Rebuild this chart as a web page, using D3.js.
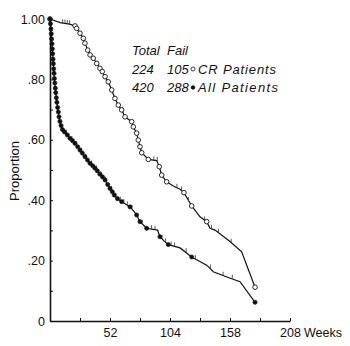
<!DOCTYPE html>
<html>
<head>
<meta charset="utf-8">
<script src="https://cdn.jsdelivr.net/npm/d3@7"></script>
<style>
  html, body { margin: 0; padding: 0; background: #fff; }
  svg { display: block; }
  .axis text { font-family: "Liberation Sans", Arial, sans-serif; font-size: 12.5px; fill: #111; }
  .axis path, .axis line { stroke: #111; }
  .legend text { font-family: "Liberation Sans", Arial, sans-serif; font-style: italic; font-size: 13px; fill: #111; }
</style>
</head>
<body>
<svg id="chart" width="350" height="346"></svg>
<script>
// Survival curves: [week, proportion, event marker (1) or plain vertex (0)]
const crPatients = [
  [0, 1.000, 1], [8.7, 0.988, 0], [17, 0.983, 0], [21.7, 0.977, 1], [23.1, 0.969, 1],
  [26, 0.953, 1], [28.9, 0.936, 1], [30.3, 0.920, 1], [32.7, 0.897, 1], [34.7, 0.881, 1],
  [37.5, 0.870, 1], [40.5, 0.853, 1], [43.3, 0.837, 1], [45.3, 0.826, 1], [47.7, 0.809, 1],
  [50.5, 0.792, 1], [53.5, 0.765, 1], [56.3, 0.737, 1], [59.2, 0.715, 1], [62.1, 0.699, 1],
  [65, 0.676, 1], [70.8, 0.660, 1], [72.2, 0.643, 1], [75.1, 0.622, 1], [76.5, 0.599, 1],
  [78, 0.577, 1], [79.5, 0.557, 1], [85.2, 0.535, 1], [92.5, 0.531, 0], [94.7, 0.511, 1],
  [96.8, 0.483, 1], [101.1, 0.461, 1], [106.9, 0.447, 0], [112.7, 0.436, 0], [116.1, 0.425, 1],
  [122.8, 0.381, 1], [130, 0.345, 0], [135.8, 0.329, 1], [138.7, 0.307, 0], [143, 0.301, 0],
  [156, 0.263, 0], [166.1, 0.229, 0], [177.7, 0.112, 1]
];

const allPatients = [
  [0, 1.000, 1], [0.4, 0.984, 1], [0.8, 0.967, 1], [1.1, 0.951, 1], [1.4, 0.934, 1],
  [1.7, 0.918, 1], [2.0, 0.901, 1], [2.3, 0.885, 1], [2.6, 0.867, 1], [2.9, 0.852, 1],
  [3.2, 0.835, 1], [3.5, 0.820, 1], [3.8, 0.803, 1], [4.2, 0.788, 1], [4.6, 0.771, 1],
  [5.0, 0.756, 1], [5.5, 0.739, 1], [6.0, 0.724, 1], [6.6, 0.707, 1], [7.2, 0.692, 1],
  [7.8, 0.676, 1], [8.6, 0.661, 1], [9.6, 0.647, 1], [10.8, 0.634, 1], [12.6, 0.626, 1],
  [15, 0.616, 1], [17.3, 0.605, 1], [19.5, 0.597, 1], [21.7, 0.588, 1], [24, 0.577, 1],
  [26, 0.566, 1], [28, 0.556, 1], [30.3, 0.544, 1], [32.5, 0.533, 1], [34.7, 0.522, 1],
  [37, 0.514, 1], [39, 0.506, 1], [41, 0.497, 1], [43.3, 0.486, 1], [45.5, 0.477, 1],
  [47.7, 0.467, 1], [50, 0.452, 1], [52, 0.439, 1], [54, 0.428, 1], [55.7, 0.417, 1],
  [58.5, 0.405, 1], [62.1, 0.395, 1], [66, 0.386, 0], [69.3, 0.378, 1], [72, 0.366, 0],
  [75.1, 0.351, 1], [76.5, 0.340, 0], [78, 0.329, 1], [81, 0.318, 0], [83.8, 0.307, 1],
  [93.2, 0.301, 0], [95.3, 0.279, 1], [98.5, 0.266, 0], [102.5, 0.253, 1], [112.7, 0.242, 0],
  [122.8, 0.212, 1], [135.8, 0.185, 0], [141.5, 0.163, 0], [154.5, 0.144, 0], [164.7, 0.130, 0],
  [177.7, 0.062, 1]
];

// Censored observations: [week, proportion]
const crCensored = [
  [11, 0.986], [13, 0.985], [15, 0.984], [17, 0.983], [63, 0.697], [76, 0.615],
  [90, 0.532], [93, 0.530], [110, 0.441], [114, 0.432], [120, 0.397], [134, 0.333],
  [140, 0.305], [146, 0.292], [157, 0.259]
];
const allCensored = [
  [14, 0.620], [19, 0.599], [23, 0.582], [27, 0.561], [31, 0.541], [36, 0.518],
  [40, 0.502], [44, 0.483], [48, 0.465], [53, 0.434], [57, 0.411], [61, 0.398],
  [64, 0.391], [67, 0.383], [71, 0.371], [80, 0.322], [88, 0.304], [91, 0.302],
  [97, 0.272], [100, 0.261], [105, 0.250], [108, 0.247], [118, 0.228], [126, 0.205],
  [139, 0.174], [150, 0.150], [158, 0.140]
];

const yTicks = [0, 0.1, 0.2, 0.3, 0.4, 0.5, 0.6, 0.7, 0.8, 0.9, 1.0];
const yTickLabels = { 0: "0", 0.2: ".20", 0.4: ".40", 0.6: ".60", 0.8: ".80", 1: "1.00" };
const xTicks = [26, 52, 78, 104, 130, 156, 182, 208];
const xTickLabels = { 52: "52", 104: "104", 156: "158", 208: "208" };

const legendHeader = ["Total", "Fail"];
const legendRows = [
  { total: "224", fail: "105", label: "CR Patients", filled: false },
  { total: "420", fail: "288", label: "All Patients", filled: true }
];

const svg = d3.select("#chart");
const x = d3.scaleLinear().domain([0, 208]).range([50, 290]);
const y = d3.scaleLinear().domain([0, 1]).range([321, 19]);

// Axes with inward ticks
svg.append("g")
  .attr("class", "axis")
  .attr("transform", `translate(${x(0)},0)`)
  .call(d3.axisLeft(y).tickValues(yTicks).tickSizeInner(-3).tickSizeOuter(0).tickPadding(5)
    .tickFormat(d => yTickLabels[Math.round(d * 10) / 10] || ""))
  .call(g => g.select(".domain").attr("stroke-width", 1.6))
  .call(g => g.selectAll(".tick line").attr("stroke-width", 1));

svg.append("g")
  .attr("class", "axis")
  .attr("transform", `translate(0,${y(0)})`)
  .call(d3.axisBottom(x).tickValues(xTicks).tickSizeInner(-3).tickSizeOuter(0).tickPadding(7)
    .tickFormat(d => xTickLabels[d] || ""))
  .call(g => g.select(".domain").attr("stroke-width", 1.6))
  .call(g => g.selectAll(".tick line").attr("stroke-width", 1));

svg.append("text")
  .attr("x", 304).attr("y", 337)
  .attr("font-family", "Liberation Sans, Arial, sans-serif")
  .attr("font-size", 12.5).attr("fill", "#111")
  .text("Weeks");

svg.append("text")
  .attr("transform", `translate(19,171) rotate(-90)`)
  .attr("text-anchor", "middle")
  .attr("font-family", "Liberation Sans, Arial, sans-serif")
  .attr("font-size", 13).attr("fill", "#111")
  .text("Proportion");

const line = d3.line().x(d => x(d[0])).y(d => y(d[1]));

function drawCurve(data, censored, filled) {
  const g = svg.append("g");
  g.append("path")
    .datum(data)
    .attr("d", line)
    .attr("fill", "none")
    .attr("stroke", "#111")
    .attr("stroke-width", 1.2);
  g.selectAll("line.censor")
    .data(censored)
    .join("line")
    .attr("class", "censor")
    .attr("x1", d => x(d[0])).attr("x2", d => x(d[0]))
    .attr("y1", d => y(d[1])).attr("y2", d => y(d[1]) - 4)
    .attr("stroke", "#333").attr("stroke-width", 0.8);
  g.selectAll("circle")
    .data(data.filter(d => d[2]))
    .join("circle")
    .attr("cx", d => x(d[0])).attr("cy", d => y(d[1]))
    .attr("r", filled ? 2.1 : 2.3)
    .attr("fill", filled ? "#111" : "#fff")
    .attr("stroke", "#111")
    .attr("stroke-width", filled ? 0.6 : 0.9);
}

drawCurve(crPatients, crCensored, false);
drawCurve(allPatients, allCensored, true);

// Legend
const lg = svg.append("g").attr("class", "legend");
lg.append("text").attr("x", 132).attr("y", 55).text(legendHeader[0]);
lg.append("text").attr("x", 167).attr("y", 55).text(legendHeader[1]);
legendRows.forEach((r, i) => {
  const by = 73.5 + i * 18.5;
  lg.append("text").attr("x", 132).attr("y", by).text(r.total);
  lg.append("text").attr("x", 167).attr("y", by).text(r.fail);
  lg.append("circle")
    .attr("cx", 193).attr("cy", by - 4.5)
    .attr("r", r.filled ? 1.8 : 2)
    .attr("fill", r.filled ? "#111" : "#fff")
    .attr("stroke", "#111").attr("stroke-width", 0.8);
  lg.append("text").attr("x", 198).attr("y", by)
    .attr("textLength", r.filled ? 80 : 78).attr("lengthAdjust", "spacing")
    .text(r.label);
});
</script>
</body>
</html>
